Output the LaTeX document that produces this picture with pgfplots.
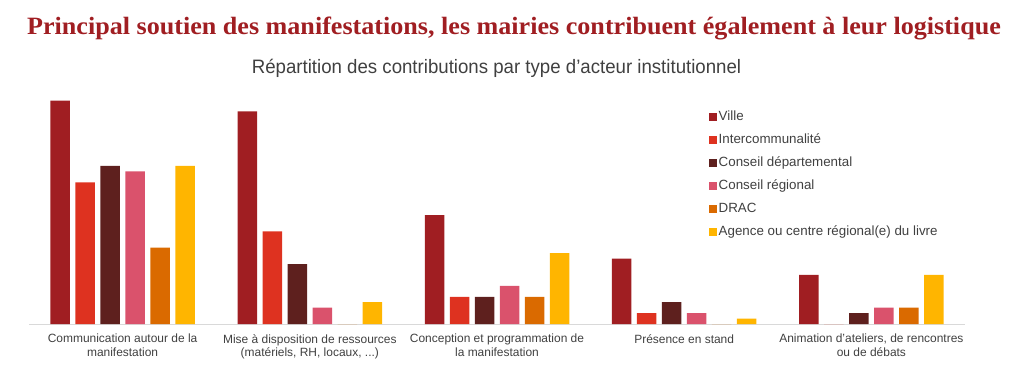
\documentclass[border=0pt]{standalone}
\usepackage{pgfplots}
\pgfplotsset{compat=1.18}
\usepackage{fontspec}
\setmainfont{Liberation Sans}
\newfontfamily\titlefont[FakeStretch=1.048]{Liberation Serif}
\newfontfamily\subfont[FakeStretch=0.96]{Liberation Sans}
\definecolor{cVille}{HTML}{A01E22}
\definecolor{cInter}{HTML}{DE3220}
\definecolor{cCD}{HTML}{5E201E}
\definecolor{cCR}{HTML}{DA526C}
\definecolor{cDRAC}{HTML}{DA6A00}
\definecolor{cAg}{HTML}{FFB500}
\definecolor{titlered}{HTML}{A01E22}
\definecolor{txt}{HTML}{404040}
\definecolor{axl}{HTML}{D9D9D9}
\newcommand\threedots{...}
\begin{document}
\begin{tikzpicture}[x=1bp,y=1bp]
\path[use as bounding box] (0,0) rectangle (1024,381);
\node[anchor=base, inner sep=0pt, font=\titlefont\bfseries\fontsize{25}{29}\selectfont, text=titlered] at (514,346.7) {Principal soutien des manifestations, les mairies contribuent également à leur logistique};
\node[anchor=base, inner sep=0pt, font=\subfont\fontsize{19.5}{22}\selectfont, text=txt] at (496.5,307.7) {Répartition des contributions par type d’acteur institutionnel};
\begin{axis}[
  at={(29bp,57bp)}, anchor=south west,
  scale only axis, width=936bp, height=234bp,
  xmin=-0.5, xmax=4.5, ymin=0, ymax=42.936,
  ybar, bar width=19.5bp,
  axis y line=none, axis x line*=bottom,
  x axis line style={draw=axl, line width=1bp, -},
  xtick={0,1,2,3,4}, major tick length=0pt,
  xticklabels={{Communication autour de la\\manifestation},{Mise à disposition de ressources\\(matériels, RH, locaux, \threedots)},{Conception et programmation de\\la manifestation},{Présence en stand},{Animation d’ateliers, de rencontres\\ou de débats}},
  x tick label style={align=center, font=\fontsize{12}{14}\selectfont, text=txt, inner sep=0pt, yshift=-10bp},
  legend style={at={(0.7233,0.925)}, anchor=north west, draw=none, fill=none,
    font=\fontsize{13.4}{15}\selectfont, text=txt, row sep=8bp,
    nodes={inner sep=1.5bp, text height=9.5bp, text depth=2.5bp}},
  legend cell align=left,
  legend image code/.code={\path[#1,draw=none] (0bp,-4bp) rectangle (8bp,4bp);},
]
\addplot[fill=cVille, draw=none, bar shift=-62.5bp] coordinates {(0,41) (1,39) (2,20) (3,12) (4,9)};
\addplot[fill=cInter, draw=none, bar shift=-37.5bp] coordinates {(0,26) (1,17) (2,5) (3,2) (4,0)};
\addplot[fill=cCD, draw=none, bar shift=-12.5bp] coordinates {(0,29) (1,11) (2,5) (3,4) (4,2)};
\addplot[fill=cCR, draw=none, bar shift=12.5bp] coordinates {(0,28) (1,3) (2,7) (3,2) (4,3)};
\addplot[fill=cDRAC, draw=none, bar shift=37.5bp] coordinates {(0,14) (1,0) (2,5) (3,0) (4,3)};
\addplot[fill=cAg, draw=none, bar shift=62.5bp] coordinates {(0,29) (1,4) (2,13) (3,1) (4,9)};
\legend{Ville,Intercommunalité,Conseil départemental,Conseil régional,DRAC,Agence ou centre régional(e) du livre}
\end{axis}
\end{tikzpicture}
\end{document}
